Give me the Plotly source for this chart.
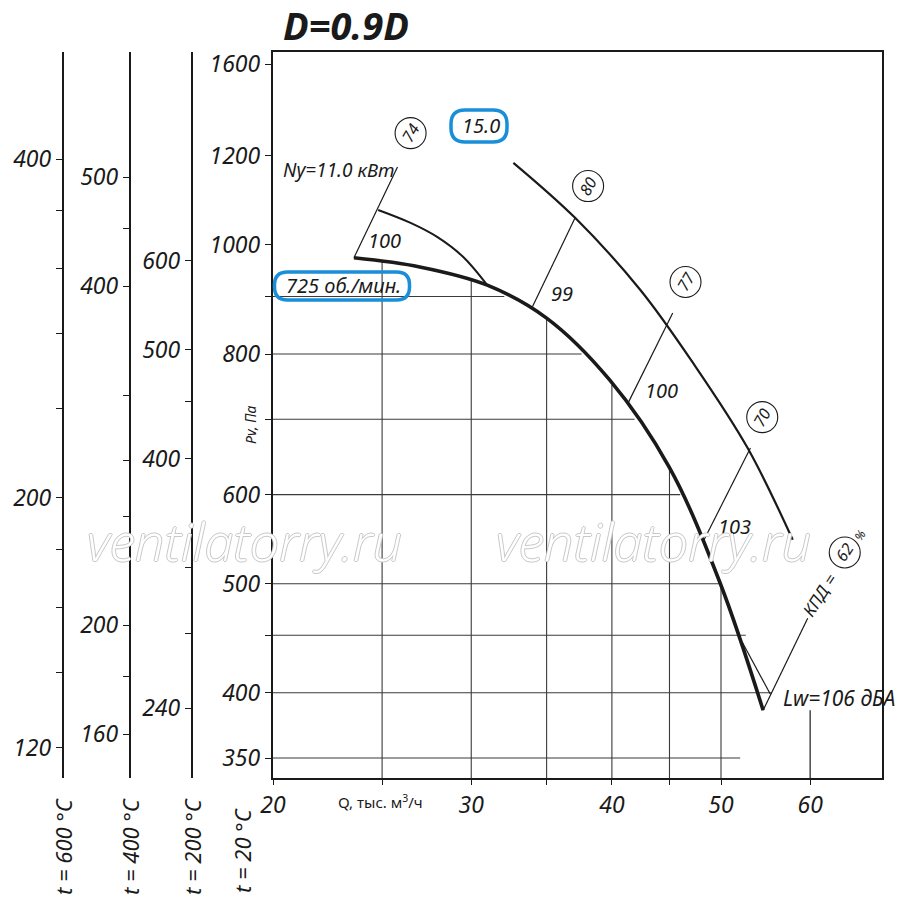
import numpy as np
import plotly.graph_objects as go

# --- data (Q in thousand m3/h, P in Pa, t = 20 C) ---
# pressure curve, 725 rpm
q_curve = [23.6, 27.0, 31.0, 35.0, 39.8, 45.0, 49.9, 54.5]
p_curve = [974, 956, 921, 861, 759, 634, 501, 386]

# upper boundary curve (15.0)
q_upper = [32.7, 37.1, 42.4, 47.2, 52.8, 57.9]
p_upper = [1183, 1057, 912, 786, 660, 547]

# left boundary curve (Ny=11.0 kW)
q_left = [24.8, 26.5, 28.0, 29.5, 31.0]
p_left = [1074, 1046, 1016, 976, 921]

# short lines
q_ny_line = [23.6, 25.8]
p_ny_line = [974, 1173]
q_right = [52.2, 55.3]
p_right = [444, 399]
q_kpd_line = [54.5, 59.7]
p_kpd_line = [386, 466]
q_lw_line = [60, 60]
p_lw_line = [386, 336]

# noise level lines: (Q start, Q end), (P start, P end)
eff_q = [[34.0, 37.1], [41.3, 45.3], [48.3, 53.1]]
eff_p = [[881, 1057], [722, 870], [547, 660]]
eff_text = ["99", "100", "103"]
eff_label_q = [36.1, 44.3, 51.4]
eff_label_p = [905, 743, 562]

# efficiency circles
circ_text = ["74", "80", "77", "70"]
circ_q = [26.5, 38.1, 46.5, 54.4]
circ_p = [1257, 1128, 927, 703]

# grid (clipped under the curve)
grid_p = [350, 400, 450, 500, 600, 700, 800, 900]
grid_p_qend = [52.0, 55.5, 52.6, 49.9, 46.0, 41.9, 37.6, 32.1]
grid_q = [25, 30, 35, 40, 45, 50]
grid_q_pend = [968, 929, 861, 751, 634, 501]

# axes
q_range = [20, 69.5]
p_range = [336, 1484]
x_ticks = [20, 25, 30, 35, 40, 45, 50, 60]
x_ticktext = ["20", "", "30", "", "40", "", "50", "60"]
y_ticks = [350, 400, 450, 500, 600, 700, 800, 900, 1000, 1200, 1448]
y_ticktext = ["350", "400", "", "500", "600", "", "800", "", "1000", "1200", "1600"]

t600_ticks = [400, 360, 320, 280, 240, 200, 180, 160, 140, 120]
t600_text = ["400", "", "", "", "", "200", "", "", "", "120"]
t400_ticks = [500, 450, 400, 320, 280, 250, 200, 180, 160]
t400_text = ["500", "", "400", "", "", "", "200", "", "160"]
t200_ticks = [600, 500, 450, 400, 320, 280, 240]
t200_text = ["600", "500", "", "400", "", "", "240"]

FONT = "Noto Sans"
INK = "#1a1a1a"
BLUE = "#1a8fd9"
W, H = 900, 916
TOP, BOTTOM = 52, 778  # plot area in pixels
PH = BOTTOM - TOP

fig = go.Figure()


def add_line(q, p, width, color=INK, shape="linear", axis="y"):
    fig.add_trace(go.Scatter(x=q, y=p, mode="lines", yaxis=axis,
                             line=dict(width=width, color=color, shape=shape),
                             hoverinfo="skip", showlegend=False))


# grid
for p, qe in zip(grid_p, grid_p_qend):
    add_line([q_range[0], qe], [p, p], 1.1, "#3a3a3a")
for q, pe in zip(grid_q, grid_q_pend):
    add_line([q, q], [p_range[0], pe], 1.1, "#3a3a3a")

# curves
add_line(q_upper, p_upper, 2.2, shape="spline")
add_line(q_left, p_left, 2.0, shape="spline")
add_line(q_curve, p_curve, 3.6, shape="spline")
add_line(q_ny_line, p_ny_line, 1.2)
add_line(q_right, p_right, 1.2)
add_line(q_kpd_line, p_kpd_line, 1.2)
add_line(q_lw_line, p_lw_line, 1.2)
for q, p in zip(eff_q, eff_p):
    add_line(q, p, 1.2)

# circles for efficiency values
fig.add_trace(go.Scatter(x=circ_q + [64.4], y=circ_p + [533], mode="markers",
                         marker=dict(symbol="circle-open", size=31, color=INK,
                                     line=dict(width=1.1, color=INK)),
                         hoverinfo="skip", showlegend=False))

# invisible traces so the temperature axes are drawn
for ax in ["y2", "y3", "y4"]:
    fig.add_trace(go.Scatter(x=[None], y=[None], yaxis=ax, showlegend=False,
                             hoverinfo="skip"))

ann = []


def text(x, y, s, size=18, angle=0, xref="x", yref="y", color=INK, bold=False,
         family=FONT):
    if xref == "x":
        x = np.log10(x)
    if yref == "y":
        y = np.log10(y)
    ann.append(dict(x=x, y=y, xref=xref, yref=yref, text=s, showarrow=False,
                    textangle=angle, xanchor="center", yanchor="middle",
                    font=dict(family=family, size=size, color=color, style="italic",
                              weight=700 if bold else 400)))


def px_x(px):
    return px / W


def px_y(py):
    return (BOTTOM - py) / PH


for s, q, p in zip(circ_text, circ_q, circ_p):
    text(q, p, s, size=16, angle=-60)
for s, q, p in zip(eff_text, eff_label_q, eff_label_p):
    text(q, p, s, size=20)

text(25.1, 1010, "100", size=20)
text(30.6, 1276, "15.0", size=20)
text(23.1, 920, "725 об./мин.", size=20)
text(22.9, 1166, "Ny=11.0 кВт", size=19)
text(63.6, 396, "Lw=106 дБА", size=21)
text(61.2, 489, "КПД =", size=17, angle=-57)
text(64.4, 533, "62", size=16, angle=-57)
text(66.4, 552, "%", size=12, angle=-57)

# axis captions
text(px_x(250), px_y(425), "Pv, Па", size=14, angle=-90, xref="paper", yref="paper")
ann.append(dict(x=px_x(380), y=px_y(801), xref="paper", yref="paper",
                xanchor="center", yanchor="middle",
                text="Q, тыс. м<sup>3</sup>/ч", showarrow=False,
                font=dict(family=FONT, size=15, color=INK)))

# temperature captions
for s, px, py in [("t = 600 °C", 63, 847), ("t = 400 °C", 130, 847),
                  ("t = 200 °C", 192, 847), ("t = 20 °C", 242, 851)]:
    text(px_x(px), px_y(py), s, size=22, angle=-90, xref="paper", yref="paper")

# title
text(px_x(346), px_y(25), "D=0.9D", size=38, xref="paper", yref="paper", bold=True,
     family="Open Sans")

# watermark
for px in [245, 653]:
    ann.append(dict(x=px_x(px), y=px_y(540), xref="paper", yref="paper",
                    xanchor="center", yanchor="middle",
                    text="ventilatorry.ru", showarrow=False,
                    font=dict(family="Open Sans", size=52, color="white", weight=300,
                              style="italic",
                              shadow="1px 0 #c8c8c8, -1px 0 #c8c8c8, 0 1px #c8c8c8, 0 -1px #c8c8c8")))


def rounded_box(cx, cy, w, h, r):
    a, b = w / 2, h / 2
    path = (f"M {-a + r},{-b} L {a - r},{-b} Q {a},{-b} {a},{-b + r} "
            f"L {a},{b - r} Q {a},{b} {a - r},{b} L {-a + r},{b} "
            f"Q {-a},{b} {-a},{b - r} L {-a},{-b + r} Q {-a},{-b} {-a + r},{-b} Z")
    return dict(type="path", xref="paper", yref="paper", xsizemode="pixel",
                ysizemode="pixel", xanchor=px_x(cx), yanchor=px_y(cy),
                path=path, line=dict(color=BLUE, width=3.5))


shapes = [rounded_box(479, 126, 56, 32, 14), rounded_box(342, 286, 135, 28, 13)]

tickfont = dict(family=FONT, size=23, color=INK, style="italic")
side_axis = dict(type="log", overlaying="y", anchor="free", side="left",
                 showline=True, linewidth=2.4, linecolor=INK, ticks="outside",
                 ticklen=6, tickwidth=1.2, tickcolor=INK, showgrid=False,
                 zeroline=False, tickfont=tickfont, tickmode="array",
                 automargin=False)

fig.update_layout(
    width=W, height=H,
    margin=dict(l=0, r=0, t=TOP, b=H - BOTTOM, autoexpand=False),
    paper_bgcolor="white", plot_bgcolor="white",
    showlegend=False,
    xaxis=dict(type="log", domain=[273 / W, 882 / W],
               range=[np.log10(q_range[0]), np.log10(q_range[1])],
               tickmode="array", tickvals=x_ticks, ticktext=x_ticktext,
               ticks="outside", ticklen=5, tickwidth=1.2, tickcolor=INK,
               showline=True, linewidth=2.4, linecolor=INK, mirror=True,
               showgrid=False, zeroline=False, tickfont=tickfont, automargin=False),
    yaxis=dict(type="log", range=[np.log10(p_range[0]), np.log10(p_range[1])],
               tickmode="array", tickvals=y_ticks, ticktext=y_ticktext,
               ticks="outside", ticklen=6, tickwidth=1.2, tickcolor=INK,
               showline=True, linewidth=2.4, linecolor=INK, mirror=True,
               showgrid=False, zeroline=False, tickfont=tickfont, automargin=False),
    yaxis2=dict(side_axis, position=63 / W,
                range=[np.log10(p_range[0] * 293 / 873), np.log10(p_range[1] * 293 / 873)],
                tickvals=t600_ticks, ticktext=t600_text),
    yaxis3=dict(side_axis, position=130 / W,
                range=[np.log10(p_range[0] * 293 / 673), np.log10(p_range[1] * 293 / 673)],
                tickvals=t400_ticks, ticktext=t400_text),
    yaxis4=dict(side_axis, position=192 / W,
                range=[np.log10(p_range[0] * 293 / 473), np.log10(p_range[1] * 293 / 473)],
                tickvals=t200_ticks, ticktext=t200_text),
    annotations=ann,
    shapes=shapes,
)

fig.write_html("out.html", config={"displayModeBar": False},
               post_script="document.body.style.margin='0';")
